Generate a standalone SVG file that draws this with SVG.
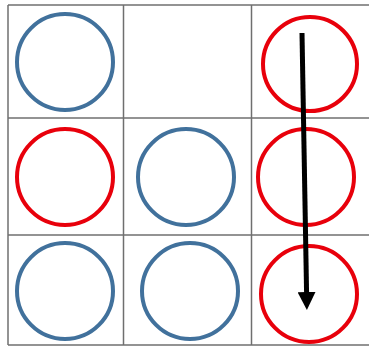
<svg xmlns="http://www.w3.org/2000/svg" width="369" height="347" viewBox="0 0 369 347">
<style>
.grid{stroke:#6f6f6f;stroke-width:1.5;fill:none}
.blue{fill:none;stroke:#41719C;stroke-width:4}
.red{fill:none;stroke:#E8000B;stroke-width:4}
.arrow{stroke:#000;stroke-width:5;fill:none}
</style>
<defs>
<marker id="ah" markerUnits="userSpaceOnUse" viewBox="0 0 18 18" markerWidth="18" markerHeight="18" refX="2" refY="9" orient="auto">
<path d="M0,0 L18,9 L0,18 z" fill="#000"/>
</marker>
</defs>
<g id="grid">
<line class="grid" x1="8" y1="5" x2="369" y2="5"/>
<line class="grid" x1="8" y1="118" x2="369" y2="118"/>
<line class="grid" x1="8" y1="235" x2="369" y2="235"/>
<line class="grid" x1="8" y1="345" x2="369" y2="345"/>
<line class="grid" x1="8" y1="5" x2="8" y2="345"/>
<line class="grid" x1="123.5" y1="5" x2="123.5" y2="345"/>
<line class="grid" x1="251.5" y1="5" x2="251.5" y2="345"/>
</g>
<g id="c11"><circle class="blue" cx="65" cy="62" r="48"/></g>
<g id="c13"><circle class="red" cx="310" cy="64" r="47"/></g>
<g id="c21"><circle class="red" cx="65" cy="177" r="48"/></g>
<g id="c22"><circle class="blue" cx="186" cy="177" r="48"/></g>
<g id="c23"><circle class="red" cx="306" cy="177" r="48"/></g>
<g id="c31"><circle class="blue" cx="65" cy="291" r="48"/></g>
<g id="c32"><circle class="blue" cx="190" cy="291" r="48"/></g>
<g id="c33"><circle class="red" cx="309" cy="294" r="48"/></g>
<g id="connectors">
<line class="arrow" x1="302" y1="33" x2="306.6" y2="294" marker-end="url(#ah)"/>
</g>
</svg>
